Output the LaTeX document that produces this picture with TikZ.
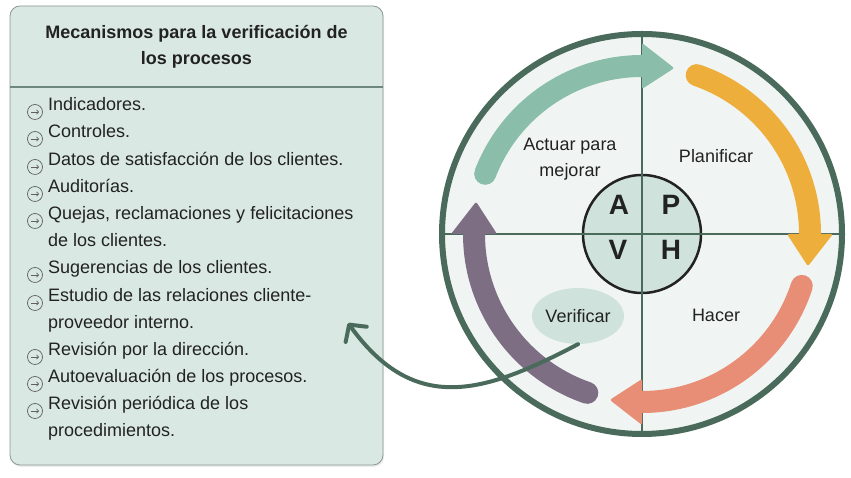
\documentclass[tikz,border=0pt]{standalone}
\usepackage{fontspec}
\setmainfont{Liberation Sans}
\usetikzlibrary{arrows.meta}
\usetikzlibrary{shapes.geometric}
\usetikzlibrary{shadows}
\definecolor{pdcagreen}{HTML}{4A6A5C}
\definecolor{panelfill}{HTML}{D9E8E2}
\definecolor{panelline}{HTML}{8A9792}
\definecolor{cyclefill}{HTML}{F0F5F3}
\definecolor{corefill}{HTML}{CFE3DC}
\definecolor{actcol}{HTML}{8ABEAA}
\definecolor{plancol}{HTML}{EDAE3B}
\definecolor{docol}{HTML}{E88E76}
\definecolor{checkcol}{HTML}{7E6E84}
\definecolor{inkcol}{HTML}{222222}

\begin{document}
\begin{tikzpicture}[x=1pt,y=1pt,
  item/.style={anchor=base west,inner sep=0pt,text=inkcol,font=\fontsize{18}{26}\selectfont},
  bul/.style={circle,draw=gray!75!black,line width=.7pt,inner sep=0pt,minimum size=15pt,
    path picture={\draw[gray!75!black,line width=.7pt,-{Straight Barb[length=2pt,width=4.4pt]}]
      ([xshift=-3.8pt]path picture bounding box.center) -- ([xshift=4pt]path picture bounding box.center);}},
  lbl/.style={text=inkcol,align=center,font=\fontsize{18}{26}\selectfont},
  letter/.style={text=inkcol,font=\fontsize{28}{28}\selectfont\bfseries},
  band/.style={line width=22pt,line cap=round},
  conn/.style={draw=pdcagreen,line width=4pt,line cap=round,-{Straight Barb[length=12pt,width=26pt,round]}}]
          \useasboundingbox (0,0) rectangle (851,478);
          % panel with the list
          \node[draw=panelline,line width=.8pt,fill=panelfill,rounded corners=10pt,
            minimum width=373pt,minimum height=459pt,
            drop shadow={opacity=.15,shadow xshift=1pt,shadow yshift=-2pt}] (mech) at (196.5,242.5) {};
          \draw[pdcagreen!80,line width=1.5pt] (mech.west |- 0,391) -- (mech.east |- 0,391);
          \node[lbl,font=\fontsize{18}{26}\selectfont\bfseries] (title) at (196.5,431)
            {Mecanismos para la verificación de\\los procesos};
          \node[bul] (b1) at (35,366) {};
          \node[item] (i1) at (48,367) {Indicadores.};
          \node[bul] (b2) at (35,339) {};
          \node[item] (i2) at (48,340) {Controles.};
          \node[bul] (b3) at (35,311) {};
          \node[item] (i3) at (48,312) {Datos de satisfacción de los clientes.};
          \node[bul] (b4) at (35,284) {};
          \node[item] (i4) at (48,285) {Auditorías.};
          \node[bul] (b5) at (35,257) {};
          \node[item] (i5) at (48,258) {Quejas, reclamaciones y felicitaciones};
          \node[item] (i5b) at (48,231) {de los clientes.};
          \node[bul] (b6) at (35,203) {};
          \node[item] (i6) at (48,204) {Sugerencias de los clientes.};
          \node[bul] (b7) at (35,175) {};
          \node[item] (i7) at (48,176) {Estudio de las relaciones cliente-};
          \node[item] (i7b) at (48,149) {proveedor interno.};
          \node[bul] (b8) at (35,121) {};
          \node[item] (i8) at (48,122) {Revisión por la dirección.};
          \node[bul] (b9) at (35,94) {};
          \node[item] (i9) at (48,95) {Autoevaluación de los procesos.};
          \node[bul] (b10) at (35,67) {};
          \node[item] (i10) at (48,68) {Revisión periódica de los};
          \node[item] (i10b) at (48,41) {procedimientos.};
          % the cycle
          \coordinate (c) at (642,244);
          \fill[cyclefill] (c) circle (200);
          \node[circle,draw=inkcol,line width=2.5pt,fill=corefill,minimum size=118pt] (core) at (c) {};
          \draw[pdcagreen,line width=1.5pt] (442,244) -- (842,244);
          \draw[pdcagreen,line width=1.5pt] (642,44) -- (642,444);
          \draw[pdcagreen,line width=6pt] (c) circle (200);
          \node[letter] (la) at (619,273) {A};
          \node[letter] (lp) at (671,273) {P};
          \node[letter] (lv) at (618,228) {V};
          \node[letter] (lh) at (671,228) {H};
          % arrows round the cycle
          \draw[band,actcol] ([shift={(159:168)}]c) arc (159:90:168);
          \fill[actcol,rounded corners=2pt] ([shift={(90:145)}]c) -- ([shift={(90:191)}]c) -- ([shift={(79:169)}]c) -- cycle;
          \draw[band,plancol] ([shift={(71:168)}]c) arc (71:0:168);
          \fill[plancol,rounded corners=2pt] ([shift={(0:145)}]c) -- ([shift={(0:191)}]c) -- ([shift={(-11:169)}]c) -- cycle;
          \draw[band,docol] ([shift={(-18:168)}]c) arc (-18:-90:168);
          \fill[docol,rounded corners=2pt] ([shift={(-90:145)}]c) -- ([shift={(-90:191)}]c) -- ([shift={(-101:169)}]c) -- cycle;
          \draw[band,checkcol] ([shift={(-109:168)}]c) arc (-109:-180:168);
          \fill[checkcol,rounded corners=2pt] ([shift={(180:145)}]c) -- ([shift={(180:191)}]c) -- ([shift={(169:169)}]c) -- cycle;
          % labels of the quadrants
          \node[lbl] (act) at (570,319) {Actuar para\\mejorar};
          \node[lbl] (plan) at (716,322) {Planificar};
          \node[lbl] (hacer) at (716,163) {Hacer};
          \node[lbl,ellipse,fill=corefill,inner sep=0pt,minimum width=80pt,minimum height=56pt] (verif) at (578,162) {Verificar};
          \coordinate (tip) at (348,155);
          \draw[conn] (verif.south) .. controls (485,85) and (415,62) .. (tip);
        \end{tikzpicture}
\end{document}
